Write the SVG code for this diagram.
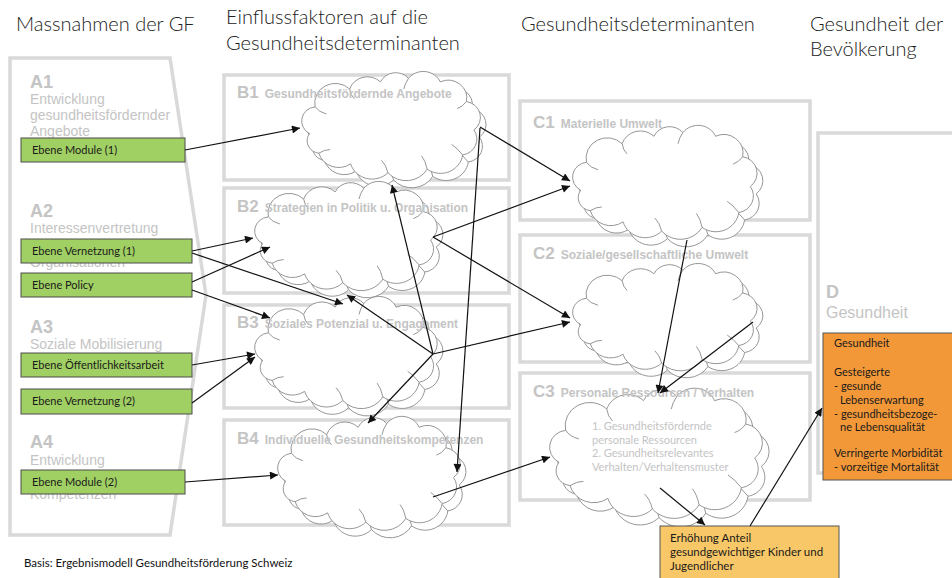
<svg xmlns="http://www.w3.org/2000/svg" xmlns:xlink="http://www.w3.org/1999/xlink" width="952" height="578" viewBox="0 0 952 578">
<style>
.hdr{font-family:Lato,"Open Sans","Liberation Sans",sans-serif;font-weight:300;font-size:20px;fill:#222}
.frame{fill:none;stroke:#d9d9d9;stroke-width:3.5}
.ga{font-family:"Liberation Sans",Arial,sans-serif;fill:#c4c4c4}
.big{font-weight:bold;font-size:18px}
.sub{font-size:14px}
.bl{font-weight:bold;font-size:17px}
.bt{font-weight:bold;font-size:12px}
.green{fill:#a0cf63;stroke:#4d4d4d;stroke-width:1}
.gt{font-family:Lato,"Open Sans","Liberation Sans",sans-serif;font-size:11px;fill:#1a1a1a}
.ct{font-family:Lato,"Open Sans","Liberation Sans",sans-serif;font-size:11px;fill:#c4c4c4}
.bx{font-family:Lato,"Open Sans","Liberation Sans",sans-serif;font-size:11px;fill:#1a1a1a}
.by{font-family:Lato,"Open Sans","Liberation Sans",sans-serif;font-size:11.5px;fill:#1a1a1a}
.conn line{stroke:#111;stroke-width:1.2;fill:none}
.arr{marker-end:url(#ah)}
</style>
<defs>
<marker id="ah" viewBox="0 0 10 10" refX="10" refY="5" markerWidth="11" markerHeight="8" markerUnits="userSpaceOnUse" orient="auto">
<path d="M0,0 L10,5 L0,10 z" fill="#111"/>
</marker>
<g id="cl">
<path d="M12,70 A16,16 0 0 1 18,40 A22,22 0 0 1 55,20 A20,20 0 0 1 88,12 A18,18 0 0 1 118,8 A20,20 0 0 1 152,12 A20,20 0 0 1 180,34 A18,18 0 0 1 188,66 A18,18 0 0 1 176,94 A24,24 0 0 1 138,110 A26,26 0 0 1 96,114 A24,24 0 0 1 56,104 A22,22 0 0 1 22,92 A14,14 0 0 1 12,70 Z" fill="#fff" stroke="#8a8a8a" stroke-width="0.9" vector-effect="non-scaling-stroke"/>
<path d="M18,40 Q22,46 30,48 M55,20 Q56,27 60,31 M118,8 Q114,14 113,20 M180,34 Q176,40 170,42 M176,94 Q170,86 164,82 M138,110 Q136,100 132,95 M96,114 Q94,105 89,100 M22,92 Q28,88 34,88" fill="none" stroke="#8a8a8a" stroke-width="0.9" vector-effect="non-scaling-stroke"/>
</g>
<g id="cloud2">
<use xlink:href="#cl" href="#cl" transform="translate(6,8)"/>
<use xlink:href="#cl" href="#cl"/>
</g>
</defs>

<rect width="952" height="578" fill="#fff"/>

<g id="headers">
<text class="hdr" x="16" y="31">Massnahmen der GF</text>
<text class="hdr" x="226" y="24">Einflussfaktoren auf die</text>
<text class="hdr" x="226" y="50">Gesundheitsdeterminanten</text>
<text class="hdr" x="521" y="31">Gesundheitsdeterminanten</text>
<text class="hdr" x="810" y="31">Gesundheit der</text>
<text class="hdr" x="810" y="56">Bevölkerung</text>
</g>

<g id="colA">
<path class="frame" d="M10,58 L170,58 L206,295 L170,535 L10,535 Z"/>
<text class="ga big" x="30" y="88">A1</text>
<text class="ga sub" x="30" y="104">Entwicklung</text>
<text class="ga sub" x="30" y="120">gesundheitsfördernder</text>
<text class="ga sub" x="30" y="136">Angebote</text>
<text class="ga big" x="30" y="217">A2</text>
<text class="ga sub" x="30" y="233">Interessenvertretung</text>
<text class="ga sub" x="30" y="267">Organisationen</text>
<text class="ga big" x="30" y="333">A3</text>
<text class="ga sub" x="30" y="349">Soziale Mobilisierung</text>
<text class="ga big" x="30" y="448">A4</text>
<text class="ga sub" x="30" y="465">Entwicklung</text>
<text class="ga sub" x="30" y="499">Kompetenzen</text>
</g>

<g id="a-module1"><rect class="green" x="21" y="138" width="164" height="24"/><text class="gt" x="32" y="154">Ebene Module (1)</text></g>
<g id="a-vernetzung1"><rect class="green" x="21" y="239" width="171" height="24"/><text class="gt" x="32" y="255">Ebene Vernetzung (1)</text></g>
<g id="a-policy"><rect class="green" x="21" y="273" width="171" height="24"/><text class="gt" x="32" y="289">Ebene Policy</text></g>
<g id="a-oeff"><rect class="green" x="21" y="353" width="171" height="24"/><text class="gt" x="32" y="369">Ebene Öffentlichkeitsarbeit</text></g>
<g id="a-vernetzung2"><rect class="green" x="21" y="389" width="171" height="25"/><text class="gt" x="32" y="405">Ebene Vernetzung (2)</text></g>
<g id="a-module2"><rect class="green" x="21" y="470" width="164" height="24"/><text class="gt" x="32" y="486">Ebene Module (2)</text></g>

<g id="frames">
<rect class="frame" x="224" y="75" width="285" height="105"/>
<rect class="frame" x="224" y="188" width="285" height="105"/>
<rect class="frame" x="224" y="305" width="285" height="103"/>
<rect class="frame" x="224" y="420" width="285" height="105"/>
<rect class="frame" x="520" y="101" width="290" height="119"/>
<rect class="frame" x="520" y="235" width="290" height="127"/>
<rect class="frame" x="520" y="373" width="290" height="127"/>
<rect class="frame" x="818" y="133" width="160" height="340"/>
</g>

<g id="b1"><use xlink:href="#cloud2" href="#cloud2" transform="translate(298.3,71.2) scale(0.934,0.891)"/></g>
<g id="b2"><use xlink:href="#cloud2" href="#cloud2" transform="translate(251.2,181.2) scale(0.954,0.891)"/></g>
<g id="b3"><use xlink:href="#cloud2" href="#cloud2" transform="translate(251.2,296.2) scale(0.954,0.915)"/></g>
<g id="b4"><use xlink:href="#cloud2" href="#cloud2" transform="translate(274.2,416.1) scale(0.954,0.93)"/></g>
<g id="c1"><use xlink:href="#cloud2" href="#cloud2" transform="translate(569.1,125.1) scale(0.964,0.93)"/></g>
<g id="c2"><use xlink:href="#cloud2" href="#cloud2" transform="translate(569.1,263.2) scale(0.964,0.876)"/></g>
<g id="c3"><use xlink:href="#cloud2" href="#cloud2" transform="translate(545.6,387.9) scale(1.112,1.062)"/>
<text class="ct" x="592" y="430">1. Gesundheitsfördernde</text>
<text class="ct" x="592" y="444">personale Ressourcen</text>
<text class="ct" x="592" y="457">2. Gesundheitsrelevantes</text>
<text class="ct" x="592" y="471">Verhalten/Verhaltensmuster</text>
</g>

<g id="labels">
<text class="ga" x="237" y="98"><tspan class="bl">B1</tspan><tspan class="bt" dx="6">Gesundheitsfördernde Angebote</tspan></text>
<text class="ga" x="237" y="212"><tspan class="bl">B2</tspan><tspan class="bt" dx="6">Strategien in Politik u. Organisation</tspan></text>
<text class="ga" x="237" y="328"><tspan class="bl">B3</tspan><tspan class="bt" dx="6">Soziales Potenzial u. Engagement</tspan></text>
<text class="ga" x="237" y="444"><tspan class="bl">B4</tspan><tspan class="bt" dx="6">Individuelle Gesundheitskompetenzen</tspan></text>
<text class="ga" x="533" y="128"><tspan class="bl">C1</tspan><tspan class="bt" dx="6">Materielle Umwelt</tspan></text>
<text class="ga" x="533" y="259"><tspan class="bl">C2</tspan><tspan class="bt" dx="6">Soziale/gesellschaftliche Umwelt</tspan></text>
<text class="ga" x="533" y="397"><tspan class="bl">C3</tspan><tspan class="bt" dx="6">Personale Ressourcen / Verhalten</tspan></text>
<text class="ga big" x="826" y="298">D</text>
<text class="ga" x="826" y="318" font-size="16">Gesundheit</text>
</g>

<g id="d-gesundheit">
<rect x="823" y="333" width="140" height="147" fill="#f39839" stroke="#555" stroke-width="1"/>
<text class="bx" x="834" y="347">Gesundheit</text>
<text class="bx" x="834" y="376">Gesteigerte</text>
<text class="bx" x="834" y="390">- gesunde</text>
<text class="bx" x="840" y="404">Lebenserwartung</text>
<text class="bx" x="834" y="418">- gesundheitsbezoge-</text>
<text class="bx" x="840" y="431">ne Lebensqualität</text>
<text class="bx" x="834" y="457">Verringerte Morbidität</text>
<text class="bx" x="834" y="471">- vorzeitige Mortalität</text>
</g>

<g id="anteil">
<rect x="660" y="526" width="179" height="60" fill="#f8c767" stroke="#555" stroke-width="1"/>
<text class="by" x="670" y="542">Erhöhung Anteil</text>
<text class="by" x="670" y="556">gesundgewichtiger Kinder und</text>
<text class="by" x="670" y="570">Jugendlicher</text>
</g>

<g id="connectors" class="conn">
<line class="arr" x1="185" y1="150" x2="300" y2="128"/>
<line class="arr" x1="192" y1="251" x2="253" y2="238"/>
<line class="arr" x1="192" y1="253" x2="343" y2="304"/>
<line class="arr" x1="192" y1="282" x2="270" y2="247"/>
<line class="arr" x1="192" y1="290" x2="270" y2="318"/>
<line class="arr" x1="192" y1="365" x2="255" y2="354"/>
<line class="arr" x1="192" y1="403" x2="255" y2="357"/>
<line class="arr" x1="185" y1="482" x2="278" y2="475"/>
<line class="arr" x1="433" y1="354" x2="347" y2="295"/>
<line class="arr" x1="433" y1="354" x2="392" y2="185"/>
<line class="arr" x1="433" y1="354" x2="570" y2="322"/>
<line class="arr" x1="433" y1="354" x2="368" y2="423"/>
<line class="arr" x1="433" y1="237" x2="570" y2="318"/>
<line class="arr" x1="433" y1="237" x2="570" y2="186"/>
<line class="arr" x1="480" y1="127" x2="570" y2="181"/>
<line class="arr" x1="480" y1="128" x2="457" y2="472"/>
<line class="arr" x1="433" y1="497" x2="550" y2="457"/>
<line class="arr" x1="687" y1="240" x2="658" y2="393"/>
<line class="arr" x1="753" y1="322" x2="660" y2="393"/>
<line class="arr" x1="660" y1="488" x2="705" y2="525"/>
<line class="arr" x1="750" y1="526" x2="822" y2="408"/>
</g>

<text x="24" y="567" font-family="Lato,'Open Sans','Liberation Sans',sans-serif" font-size="11.5" fill="#111">Basis: Ergebnismodell Gesundheitsförderung Schweiz</text>
</svg>
